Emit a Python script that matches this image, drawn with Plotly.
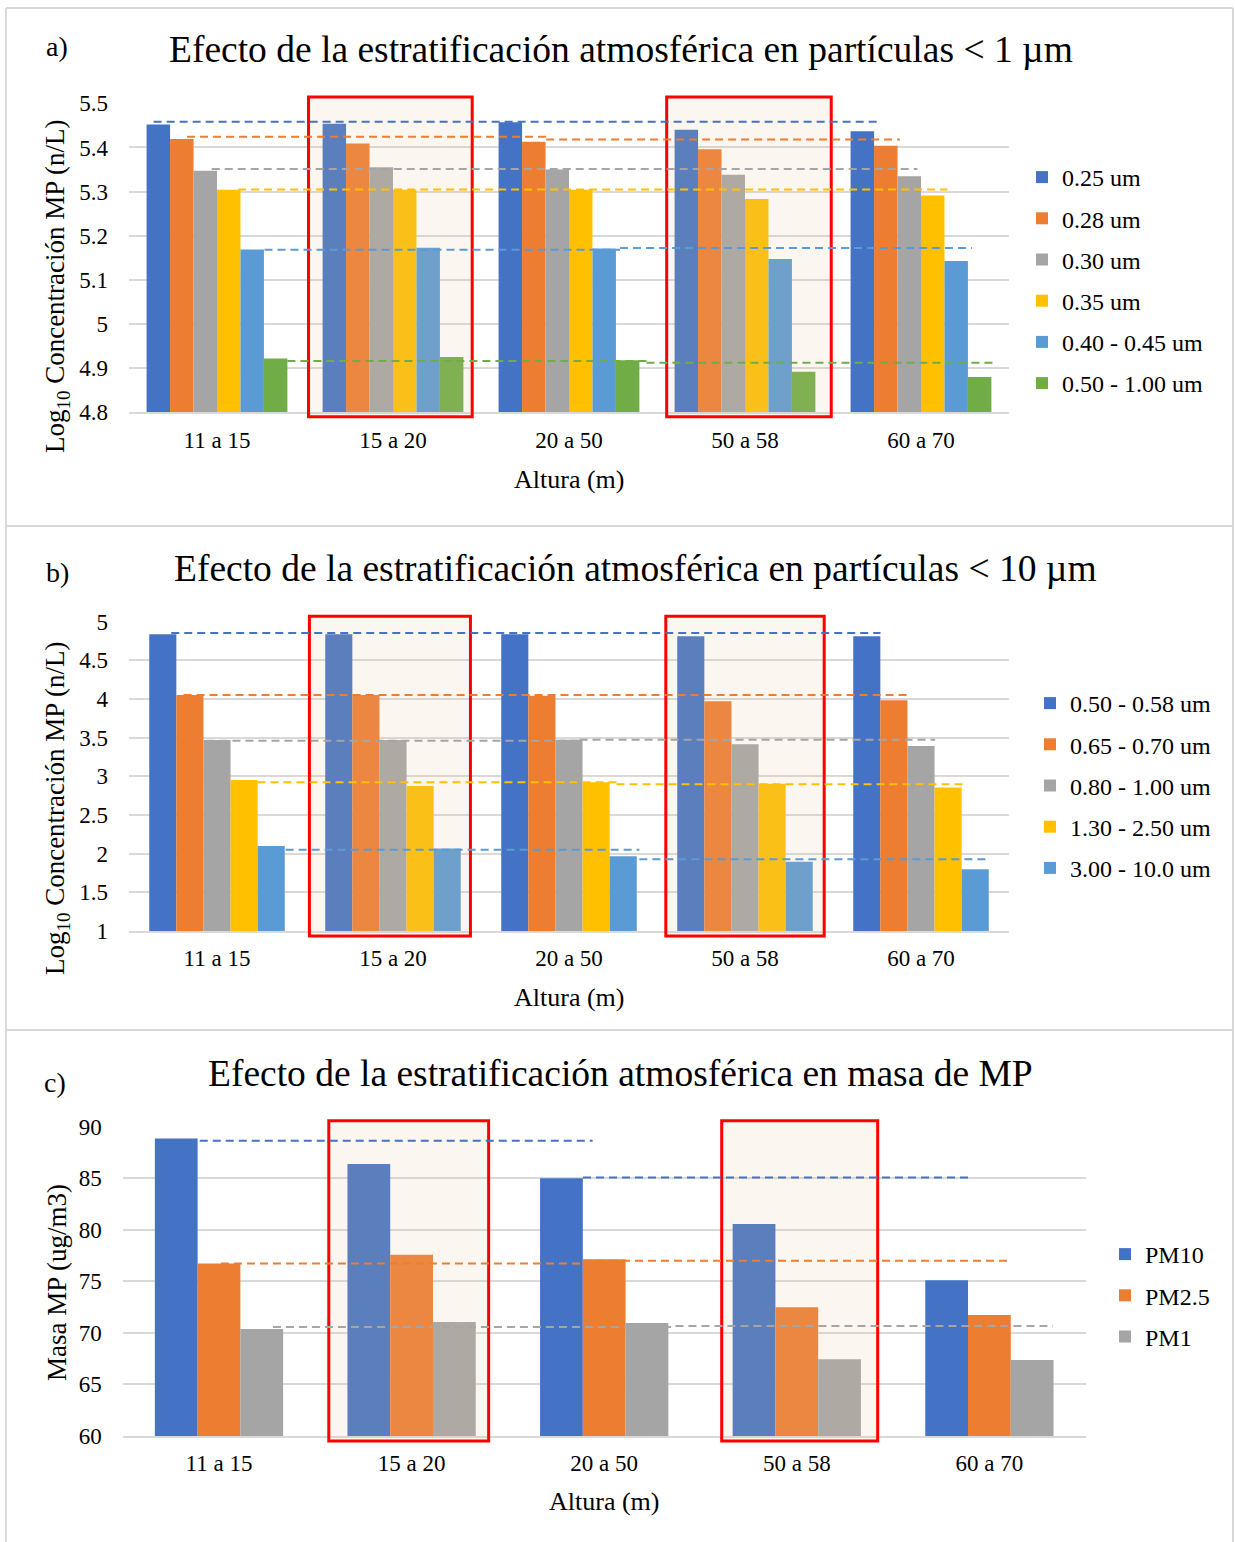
import plotly.graph_objects as go

# ---------------------------------------------------------------- data
heights = ["11 a 15", "15 a 20", "20 a 50", "50 a 58", "60 a 70"]
highlight = ["15 a 20", "50 a 58"]

# a) number concentration, particles < 1 µm (log10 n/L)
sizes_a = ["0.25 um", "0.28 um", "0.30 um", "0.35 um", "0.40 - 0.45 um", "0.50 - 1.00 um"]
conc_a_025 = [5.452, 5.454, 5.457, 5.440, 5.437]
conc_a_028 = [5.419, 5.409, 5.413, 5.396, 5.404]
conc_a_030 = [5.347, 5.355, 5.350, 5.338, 5.335]
conc_a_035 = [5.304, 5.304, 5.304, 5.283, 5.291]
conc_a_040 = [5.169, 5.173, 5.171, 5.147, 5.143]
conc_a_050 = [4.922, 4.925, 4.918, 4.892, 4.880]

# b) number concentration, particles < 10 µm (log10 n/L)
sizes_b = ["0.50 - 0.58 um", "0.65 - 0.70 um", "0.80 - 1.00 um", "1.30 - 2.50 um", "3.00 - 10.0 um"]
conc_b_050 = [4.837, 4.837, 4.837, 4.811, 4.811]
conc_b_065 = [4.052, 4.052, 4.043, 3.970, 3.983]
conc_b_080 = [3.470, 3.470, 3.474, 3.414, 3.392]
conc_b_130 = [2.952, 2.874, 2.923, 2.905, 2.857]
conc_b_300 = [2.098, 2.068, 1.966, 1.896, 1.798]

# c) mass concentration (ug/m3)
fractions_c = ["PM10", "PM2.5", "PM1"]
mass_pm10 = [88.87, 86.38, 85.00, 80.56, 75.10]
mass_pm25 = [76.74, 77.58, 77.15, 72.48, 71.73]
mass_pm1 = [70.38, 71.05, 70.95, 67.44, 67.37]

# reference levels: (series index, level, from, to) -- from/to in category units
ref_a = [
    (0, 5.458, -0.36, 3.75),
    (1, 5.424, -0.17, 1.87), (1, 5.418, 1.87, 3.88),
    (2, 5.351, -0.03, 3.98),
    (3, 5.305, 0.12, 4.15),
    (4, 5.168, 0.27, 2.29), (4, 5.172, 2.29, 4.29),
    (5, 4.916, 0.40, 2.44), (5, 4.912, 2.44, 4.41),
]
ref_b = [
    (0, 4.854, -0.26, 3.77),
    (1, 4.052, -0.19, 3.93),
    (2, 3.461, -0.06, 2.06), (2, 3.474, 2.06, 4.08),
    (3, 2.923, 0.23, 2.27), (3, 2.897, 2.27, 4.24),
    (4, 2.052, 0.39, 2.40), (4, 1.927, 2.40, 4.39),
]
ref_c = [
    (0, 88.64, -0.10, 1.94), (0, 85.07, 1.89, 3.90),
    (1, 76.74, 0.01, 1.89), (1, 77.00, 1.89, 4.11),
    (2, 70.57, 0.28, 2.37), (2, 70.67, 2.37, 4.33),
]

# ---------------------------------------------------------------- style
W, H = 1235, 1542
FONT = "Liberation Serif"
BLUE, ORANGE, GRAY, GOLD, LBLUE, GREEN = (
    "#4472C4", "#ED7D31", "#A5A5A5", "#FFC000", "#5B9BD5", "#70AD47")
GRID = "#D9D9D9"


def px_x(p):
    return p / W


def px_y(p):
    return 1 - p / H


panels = [
    dict(sfx="", label="a)", title="Efecto de la estratificación atmosférica en partículas < 1 µm",
         ytitle="Log<sub>10</sub> Concentración MP (n/L)",
         series=list(zip(sizes_a, [conc_a_025, conc_a_028, conc_a_030, conc_a_035, conc_a_040, conc_a_050],
                         [BLUE, ORANGE, GRAY, GOLD, LBLUE, GREEN])),
         refs=ref_a, yrange=[4.8, 5.5], dtick=0.1,
         plot_px=(129, 1009, 103.3, 412.3), group=0.80,
         box_x=[(0.48, 0.45), (0.445, 0.49)], box_y=(-0.014, 1.020),
         label_xy=(57, 46), title_xy=(621, 50), ytitle_xy=(57, 286), xtitle_xy=(569, 479),
         legend_xy=(1022, 155)),
    dict(sfx="2", label="b)", title="Efecto de la estratificación atmosférica en partículas < 10 µm",
         ytitle="Log<sub>10</sub> Concentración MP (n/L)",
         series=list(zip(sizes_b, [conc_b_050, conc_b_065, conc_b_080, conc_b_130, conc_b_300],
                         [BLUE, ORANGE, GRAY, GOLD, LBLUE])),
         refs=ref_b, yrange=[1, 5], dtick=0.5,
         plot_px=(129, 1009, 621.7, 931), group=0.77,
         box_x=[(0.475, 0.44), (0.45, 0.45)], box_y=(-0.016, 1.018),
         label_xy=(57, 572), title_xy=(636, 568), ytitle_xy=(57, 808), xtitle_xy=(569, 997),
         legend_xy=(1030, 681)),
    dict(sfx="3", label="c)", title="Efecto de la estratificación atmosférica en masa de MP",
         ytitle="Masa MP (ug/m3)",
         series=list(zip(fractions_c, [mass_pm10, mass_pm25, mass_pm1], [BLUE, ORANGE, GRAY])),
         refs=ref_c, yrange=[60, 90], dtick=5,
         plot_px=(122.7, 1085.7, 1126.7, 1436), group=0.666,
         box_x=[(0.43, 0.40), (0.39, 0.42)], box_y=(-0.016, 1.019),
         label_xy=(55, 1082), title_xy=(620, 1073), ytitle_xy=(57, 1283), xtitle_xy=(604, 1501),
         legend_xy=(1105, 1232)),
]

fig = go.Figure()
shapes, annotations, layout = [], [], {}

for k, p in enumerate(panels):
    sfx = p["sfx"]
    xa, ya = "x" + sfx, "y" + sfx
    n = len(p["series"])
    bw = p["group"] / n
    for i, (name, vals, color) in enumerate(p["series"]):
        fig.add_trace(go.Bar(
            x=heights, y=vals, name=name, marker=dict(color=color, line=dict(width=0)),
            width=bw, offset=-p["group"] / 2 + i * bw,
            xaxis=xa, yaxis=ya, legend="legend" + sfx, legendgroup=f"{k}-{i}",
            hoverinfo="x+y+name"))

    x0p, x1p, y1p, y0p = p["plot_px"]
    lo, hi = p["yrange"]
    pad = (hi - lo) * 1e-4
    layout["xaxis" + sfx] = dict(
        domain=[px_x(x0p), px_x(x1p)], anchor=ya, type="category",
        categoryorder="array", categoryarray=heights, range=[-0.5, 4.5],
        showgrid=False, showline=True, linecolor=GRID, linewidth=1.5,
        ticks="", ticklabelstandoff=6, tickfont=dict(family=FONT, size=23, color="#000"),
        automargin=False, fixedrange=True)
    layout["yaxis" + sfx] = dict(
        domain=[px_y(y0p), px_y(y1p)], anchor=xa, range=[lo - pad, hi + pad],
        tick0=lo, dtick=p["dtick"], showgrid=True, gridcolor=GRID, gridwidth=1.5,
        zeroline=False, showline=False, ticks="", ticklabelstandoff=20,
        tickfont=dict(family=FONT, size=23, color="#000"), automargin=False, fixedrange=True)

    lx, ly = p["legend_xy"]
    layout["legend" + sfx] = dict(
        x=px_x(lx), y=px_y(ly), xanchor="left", yanchor="top",
        font=dict(family=FONT, size=24, color="#000"), tracegroupgap=7,
        bgcolor="rgba(0,0,0,0)", itemclick=False, itemdoubleclick=False)

    # highlighted height ranges
    by0, by1 = p["box_y"]
    for g, (bl, br) in zip(highlight, p["box_x"]):
        c = heights.index(g)
        shapes.append(dict(
            type="rect", xref=xa, yref=ya + " domain", x0=c - bl, x1=c + br, y0=by0, y1=by1,
            fillcolor="rgba(228,195,155,0.15)", line=dict(color="#FF0000", width=3),
            layer="above"))

    # dashed reference levels
    colors = [s[2] for s in p["series"]]
    for si, level, xs, xe in p["refs"]:
        shapes.append(dict(
            type="line", xref=xa, yref=ya, x0=xs, x1=xe, y0=level, y1=level,
            line=dict(color=colors[si], width=2, dash="8px,5px"), layer="above"))

    # texts
    def ann(text, xy, size, **kw):
        annotations.append(dict(
            text=text, x=px_x(xy[0]), y=px_y(xy[1]), xref="paper", yref="paper",
            showarrow=False, xanchor="center", yanchor="middle",
            font=dict(family=FONT, size=size, color="#000"), **kw))

    ann(p["label"], p["label_xy"], 28)
    ann(p["title"], p["title_xy"], 37.5)
    ann(p["ytitle"], p["ytitle_xy"], 27, textangle=-90)
    ann("Altura (m)", p["xtitle_xy"], 26)

# panel frame
frame = [(6, 8, 1233, 8), (6, 8, 6, H), (1233, 8, 1233, H), (6, 526, 1233, 526), (6, 1030, 1233, 1030)]
for xa0, ya0, xa1, ya1 in frame:
    shapes.append(dict(type="line", xref="paper", yref="paper",
                       x0=px_x(xa0), y0=px_y(ya0), x1=px_x(xa1), y1=px_y(ya1),
                       line=dict(color=GRID, width=2), layer="below"))

fig.update_layout(
    width=W, height=H, margin=dict(l=0, r=0, t=0, b=0, autoexpand=False),
    paper_bgcolor="white", plot_bgcolor="white",
    barmode="overlay", showlegend=True,
    shapes=shapes, annotations=annotations,
    font=dict(family=FONT, color="#000"),
    **layout)

# keep the page exactly the size of the figure
page_css = ("document.body.style.margin='0';document.body.style.padding='0';"
            "document.documentElement.style.overflow='hidden';")
fig.write_html("out.html", config={"displayModeBar": False}, post_script=page_css)
